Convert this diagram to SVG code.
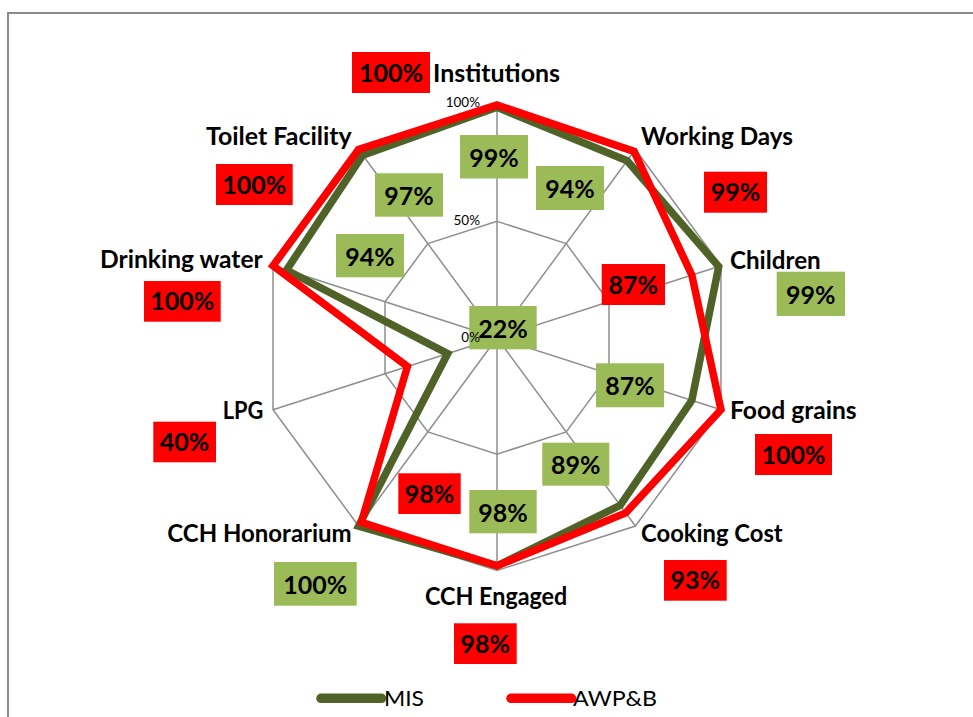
<svg xmlns="http://www.w3.org/2000/svg" width="973" height="717" viewBox="0 0 973 717">
<style>
.grid{fill:none;stroke:#8E8E8E;stroke-width:1.5}
.frame{fill:none;stroke:#8C8C8C;stroke-width:2}
.mis{fill:none;stroke:#4F6228;stroke-width:7.5;stroke-linejoin:miter;stroke-miterlimit:6}
.awp{fill:none;stroke:#FF0000;stroke-width:7.5;stroke-linejoin:miter;stroke-miterlimit:6}
.lbl{font-family:Lato,"Liberation Sans",sans-serif;font-weight:bold;font-size:25px;fill:#000}
.val{font-family:Lato,"Liberation Sans",sans-serif;font-weight:bold;font-size:25px;fill:#000;text-anchor:middle}
.tick{font-family:Lato,"Liberation Sans",sans-serif;font-size:13.5px;fill:#000;text-anchor:end}
.leg{font-family:Lato,"Liberation Sans",sans-serif;font-size:22px;fill:#000}
.rb{fill:#FF0000}
.gb{fill:#9BBB59}
</style>
<rect width="973" height="717" fill="#FFFFFF"/>
<polyline class="frame" points="8,717 8,13 973,13"/>
<g id="grid">
<polygon class="grid" points="497,105 635.42,149.45 720.97,265.83 720.97,409.67 635.42,526.05 497,570.5 358.58,526.05 273.03,409.67 273.03,265.83 358.58,149.45"/>
<polygon class="grid" points="497,221.38 566.21,243.6 608.99,301.79 608.99,373.71 566.21,431.9 497,454.13 427.79,431.9 385.01,373.71 385.01,301.79 427.79,243.6"/>
<path class="grid" d="M497,337.75L497,105M497,337.75L635.42,149.45M497,337.75L720.97,265.83M497,337.75L720.97,409.67M497,337.75L635.42,526.05M497,337.75L497,570.5M497,337.75L358.58,526.05M497,337.75L273.03,409.67M497,337.75L273.03,265.83M497,337.75L358.58,149.45"/>
</g>
<g id="connectors">
<polygon id="series-mis" class="mis" points="497,107.33 627.11,160.75 718.73,266.55 691.85,400.32 620.19,505.34 497,565.85 358.58,526.05 447.73,353.57 286.47,270.15 362.73,155.1"/>
<polygon id="series-awpb" class="awp" points="497,105 634.04,151.33 691.85,275.18 720.97,409.67 625.73,512.87 497,565.85 361.35,522.28 407.41,366.52 273.03,265.83 358.58,149.45"/>
</g>
<g id="node-institutions">
<text class="lbl" x="433" y="82" textLength="127" lengthAdjust="spacingAndGlyphs">Institutions</text>
<rect class="rb" x="352" y="52" width="78" height="41"/><text class="val" x="391" y="81.5">100%</text>
<rect class="gb" x="460" y="135" width="68" height="43.5"/><text class="val" x="494" y="166.5">99%</text>
</g>
<g id="node-working-days">
<text class="lbl" x="641" y="145" textLength="152" lengthAdjust="spacingAndGlyphs">Working Days</text>
<rect class="rb" x="704" y="171.7" width="63" height="41"/><text class="val" x="735.5" y="201">99%</text>
<rect class="gb" x="536" y="166" width="68" height="44"/><text class="val" x="570" y="197.5">94%</text>
</g>
<g id="node-children">
<text class="lbl" x="730" y="268.5" textLength="90.7" lengthAdjust="spacingAndGlyphs">Children</text>
<rect class="rb" x="601.7" y="264" width="63.3" height="41"/><text class="val" x="633.3" y="293.5">87%</text>
<rect class="gb" x="776.7" y="271.7" width="68.3" height="44.3"/><text class="val" x="810.8" y="303.5">99%</text>
</g>
<g id="node-food-grains">
<text class="lbl" x="730" y="419" textLength="126.7" lengthAdjust="spacingAndGlyphs">Food grains</text>
<rect class="rb" x="755" y="434" width="77" height="41"/><text class="val" x="793.5" y="463.5">100%</text>
<rect class="gb" x="596" y="363.3" width="68" height="44"/><text class="val" x="630" y="395">87%</text>
</g>
<g id="node-cooking-cost">
<text class="lbl" x="641" y="542" textLength="141.7" lengthAdjust="spacingAndGlyphs">Cooking Cost</text>
<rect class="rb" x="664" y="560" width="62.7" height="40.7"/><text class="val" x="695.3" y="589.3">93%</text>
<rect class="gb" x="542.3" y="442.7" width="67" height="43"/><text class="val" x="575.8" y="474">89%</text>
</g>
<g id="node-cch-engaged">
<text class="lbl" x="425" y="605" textLength="142.3" lengthAdjust="spacingAndGlyphs">CCH Engaged</text>
<rect class="rb" x="454" y="623.3" width="62.7" height="40.7"/><text class="val" x="485.3" y="652.5">98%</text>
<rect class="gb" x="469.3" y="490" width="67.4" height="43.3"/><text class="val" x="503" y="521.5">98%</text>
</g>
<g id="node-cch-honorarium">
<text class="lbl" x="167.3" y="542" textLength="184.4" lengthAdjust="spacingAndGlyphs">CCH Honorarium</text>
<rect class="rb" x="398.3" y="473.3" width="62.4" height="40.7"/><text class="val" x="429.5" y="502.5">98%</text>
<rect class="gb" x="274" y="562" width="82.7" height="43.7"/><text class="val" x="315.3" y="593.8">100%</text>
</g>
<g id="node-lpg">
<text class="lbl" x="222.7" y="419.3" textLength="40.6" lengthAdjust="spacingAndGlyphs">LPG</text>
<rect class="rb" x="153.3" y="421.7" width="62.7" height="40.6"/><text class="val" x="184.6" y="451">40%</text>
<rect class="gb" x="469.3" y="306" width="67.4" height="43.3"/><text class="val" x="503" y="337.5">22%</text>
</g>
<g id="node-drinking-water">
<text class="lbl" x="100" y="268.3" textLength="162.7" lengthAdjust="spacingAndGlyphs">Drinking water</text>
<rect class="rb" x="144" y="281" width="76.7" height="40.7"/><text class="val" x="182.3" y="310.3">100%</text>
<rect class="gb" x="336" y="234" width="68" height="43.3"/><text class="val" x="370" y="265.5">94%</text>
</g>
<g id="node-toilet-facility">
<text class="lbl" x="206" y="145" textLength="145.7" lengthAdjust="spacingAndGlyphs">Toilet Facility</text>
<rect class="rb" x="216" y="164" width="76.7" height="41"/><text class="val" x="254.3" y="193.5">100%</text>
<rect class="gb" x="375" y="173.3" width="68" height="43.4"/><text class="val" x="409" y="205">97%</text>
</g>
<g id="ticks">
<text class="tick" x="480" y="107">100%</text>
<text class="tick" x="480" y="225">50%</text>
<text class="tick" x="480" y="342">0%</text>
</g>
<g id="legend">
<line x1="321" y1="698.3" x2="381.5" y2="698.3" stroke="#4F6228" stroke-width="9.5" stroke-linecap="round"/>
<text class="leg" x="384" y="705.7" textLength="40" lengthAdjust="spacingAndGlyphs">MIS</text>
<line x1="511" y1="698.3" x2="571.5" y2="698.3" stroke="#FF0000" stroke-width="9.5" stroke-linecap="round"/>
<text class="leg" x="573" y="705.7" textLength="84" lengthAdjust="spacingAndGlyphs">AWP&amp;B</text>
</g>
</svg>
